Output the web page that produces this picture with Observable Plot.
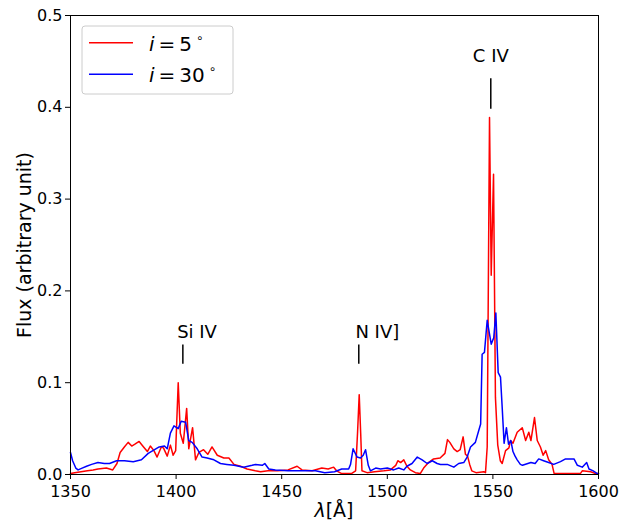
<!DOCTYPE html>
<html>
<head>
<meta charset="utf-8">
<script src="https://cdn.jsdelivr.net/npm/d3@7"></script>
<script src="https://cdn.jsdelivr.net/npm/@observablehq/plot@0.6"></script>
<style>
  html, body { margin: 0; padding: 0; background: #fff; }
  #chart { width: 620px; height: 523px; }
  svg { font-family: "DejaVu Sans", sans-serif; }
</style>
</head>
<body>
<div id="chart"></div>
<script>
// ---- data ----
const waveRed = [1350,1352,1355,1358,1360.7,1363,1367,1370,1372,1373.5,1375.5,1377.3,1379,1380.5,1382.5,1384.6,1386.4,1387.8,1389.5,1391,1393,1394,1395.8,1397.3,1398.6,1399.8,1401,1402,1403.4,1405,1406,1407.8,1409.2,1410.8,1413,1415,1417,1419.5,1422.6,1425,1427.4,1430.5,1433.6,1437.5,1440,1443.5,1448,1453,1457.3,1459.6,1464.4,1469,1472,1474.6,1476,1478.4,1483,1485,1485.9,1486.7,1487.4,1488,1490.4,1494,1498.4,1501.5,1504,1505,1506.3,1507.8,1509.3,1510.9,1513.3,1515.6,1517.2,1519.5,1521.9,1525,1527.3,1528.5,1529.6,1531.5,1533.1,1534.5,1535.9,1537,1538,1539,1540,1542,1545.7,1546.5,1547.3,1548.4,1549.2,1550.3,1551.2,1552.3,1553.5,1554.4,1556,1557.6,1558.3,1559.5,1561.5,1563.9,1565.5,1567,1568,1569.7,1571,1572.5,1573.8,1575,1576.4,1578,1579,1591.4,1592.3,1596.3,1598.6,1600];
const fluxRed = [0.001,0.002,0.003,0.004,0.005,0.006,0.007,0.005,0.012,0.024,0.030,0.035,0.031,0.033,0.036,0.030,0.025,0.031,0.026,0.019,0.030,0.029,0.020,0.032,0.021,0.026,0.100,0.045,0.034,0.072,0.028,0.051,0.016,0.024,0.027,0.022,0.030,0.021,0.018,0.018,0.011,0.009,0.006,0.004,0.003,0.004,0.004,0.005,0.009,0.005,0.004,0.007,0.006,0.008,0.004,0.001,0.001,0.004,0.045,0.087,0.045,0.004,0.002,0.003,0.004,0.005,0.010,0.015,0.013,0.016,0.009,0.005,0.002,0.001,0.007,0.013,0.017,0.018,0.023,0.038,0.035,0.028,0.025,0.027,0.041,0.022,0.020,0.011,0.004,0.002,0.003,0.002,0.030,0.389,0.217,0.327,0.084,0.032,0.015,0.012,0.026,0.029,0.037,0.034,0.046,0.051,0.037,0.046,0.037,0.062,0.037,0.030,0.021,0.026,0.016,0.011,0.001,0.001,0.004,0.003,0.001,0.001];

const waveBlue = [1350,1351,1352.5,1353.6,1355.5,1357.6,1360,1363,1366,1368.5,1371.8,1375.6,1379.7,1383.6,1386.8,1389,1392,1394.5,1395.8,1397.3,1399,1401,1402.4,1404.5,1406,1407.6,1410,1412.3,1414.7,1417.9,1421,1424,1427.4,1432,1436,1437.6,1440.8,1442,1443.9,1447,1453,1459,1466,1470.4,1475,1478.4,1481.7,1482.6,1483.8,1485.7,1487.3,1488.6,1489.7,1491,1492,1494.5,1496.8,1500,1503,1505.4,1507.8,1509.3,1511.7,1514.2,1516.5,1518.9,1521.3,1523.6,1525.2,1528.4,1531.5,1533.8,1536.2,1537.8,1539.4,1541.7,1543.3,1544.2,1544.9,1546,1547.3,1548.4,1549.2,1550.4,1551.4,1552.5,1553.6,1554.4,1555.3,1556.4,1557.4,1558.5,1559.5,1560.5,1561.5,1563,1564,1568,1570,1571.7,1574,1576.4,1578.8,1582,1584.4,1588.4,1590,1592.3,1594.4,1595.5,1597.5,1599.4,1600];
const fluxBlue = [0.024,0.015,0.007,0.005,0.007,0.009,0.011,0.013,0.012,0.012,0.015,0.015,0.014,0.016,0.023,0.026,0.030,0.031,0.028,0.045,0.053,0.050,0.058,0.057,0.037,0.035,0.028,0.019,0.018,0.016,0.012,0.011,0.010,0.008,0.010,0.011,0.010,0.012,0.006,0.005,0.004,0.004,0.004,0.002,0.003,0.006,0.006,0.011,0.028,0.019,0.018,0.021,0.027,0.010,0.004,0.007,0.006,0.007,0.005,0.007,0.005,0.009,0.012,0.019,0.016,0.012,0.015,0.012,0.011,0.011,0.008,0.012,0.013,0.019,0.030,0.035,0.048,0.055,0.131,0.133,0.168,0.153,0.142,0.149,0.176,0.111,0.106,0.073,0.034,0.051,0.033,0.037,0.025,0.020,0.016,0.011,0.010,0.013,0.012,0.017,0.015,0.013,0.011,0.014,0.017,0.017,0.010,0.008,0.013,0.006,0.004,0.001,0.001];

const seriesNames = ["i = 5°", "i = 30°"];
const xTicks = [1350, 1400, 1450, 1500, 1550, 1600];
const yTicks = [0.0, 0.1, 0.2, 0.3, 0.4, 0.5];

// line identifications
const ionNames = ["Si IV", "N IV]", "C IV"];
const ionWave = [1403.2, 1486.5, 1549.0];
const ionTickLow = [0.120, 0.120, 0.398];
const ionTickHigh = [0.141, 0.141, 0.431];
const ionLabelWave = [1400.5, 1484.9, 1540.5];
const ionLabelFlux = [0.149, 0.149, 0.449];

// ---- build tables ----
const red = waveRed.map((w, i) => ({w, f: fluxRed[i]}));
const blue = waveBlue.map((w, i) => ({w, f: fluxBlue[i]}));
const ions = ionNames.map((name, i) => ({
  name, w: ionWave[i], lo: ionTickLow[i], hi: ionTickHigh[i],
  lw: ionLabelWave[i], lf: ionLabelFlux[i]
}));

const chart = Plot.plot({
  width: 620,
  height: 523,
  marginLeft: 70,
  marginRight: 22,
  marginTop: 15,
  marginBottom: 49,
  style: {fontFamily: "DejaVu Sans, sans-serif", background: "#fff", color: "#000"},
  x: {domain: [1350, 1600]},
  y: {domain: [0, 0.5]},
  marks: [
    Plot.line(red, {x: "w", y: "f", stroke: "#ff0000", strokeWidth: 1.5, curve: "linear"}),
    Plot.line(blue, {x: "w", y: "f", stroke: "#0000ff", strokeWidth: 1.5, curve: "linear"}),
    Plot.ruleX(ions, {x: "w", y1: "lo", y2: "hi", stroke: "#000", strokeWidth: 1.5}),
    Plot.text(ions, {x: "lw", y: "lf", text: "name", textAnchor: "start", lineAnchor: "bottom", fontSize: 18, fill: "#000"}),
    Plot.axisX({ticks: xTicks, tickFormat: d3.format("d"), tickSize: 5, tickPadding: 6, fontSize: 16, label: null, stroke: "#000"}),
    Plot.axisY({ticks: yTicks, tickFormat: d3.format(".1f"), tickSize: 5, tickPadding: 3, fontSize: 16, label: null, stroke: "#000"}),
    Plot.frame({stroke: "#000", strokeWidth: 1})
  ]
});

document.getElementById("chart").appendChild(chart);

// axis titles and legend
const svg = d3.select(chart);
svg.append("text")
  .attr("transform", "translate(24,245) rotate(-90)")
  .attr("text-anchor", "middle")
  .attr("dominant-baseline", "central")
  .attr("font-size", 19)
  .attr("fill", "#000")
  .text("Flux (arbitrary unit)");

const xl = svg.append("text")
  .attr("x", 334).attr("y", 517)
  .attr("text-anchor", "middle")
  .attr("font-size", 19)
  .attr("fill", "#000");
xl.append("tspan").attr("font-style", "italic").text("λ");
xl.append("tspan").text("[Å]");

const lg = svg.append("g");
lg.append("rect")
  .attr("x", 82).attr("y", 26).attr("width", 151).attr("height", 68)
  .attr("rx", 3).attr("fill", "#fff").attr("fill-opacity", 0.8)
  .attr("stroke", "#cccccc").attr("stroke-width", 1);
const colors = ["#ff0000", "#0000ff"];
const nums = ["5", "30"];
seriesNames.forEach((name, i) => {
  const yy = 42.7 + i * 31.6;
  lg.append("line")
    .attr("x1", 89).attr("x2", 133).attr("y1", yy).attr("y2", yy)
    .attr("stroke", colors[i]).attr("stroke-width", 1.5);
  const t = lg.append("text")
    .attr("x", 149).attr("y", yy + 8)
    .attr("text-anchor", "start")
    .attr("font-size", 20).attr("fill", "#000");
  t.append("tspan").attr("font-style", "italic").text("i");
  t.append("tspan").attr("dx", 4).text("=");
  t.append("tspan").attr("dx", 4).text(nums[i]);
  t.append("tspan").attr("dx", 4).attr("dy", -9).attr("font-size", 12).text("∘");
  t.append("title").text(name);
});
</script>
</body>
</html>
